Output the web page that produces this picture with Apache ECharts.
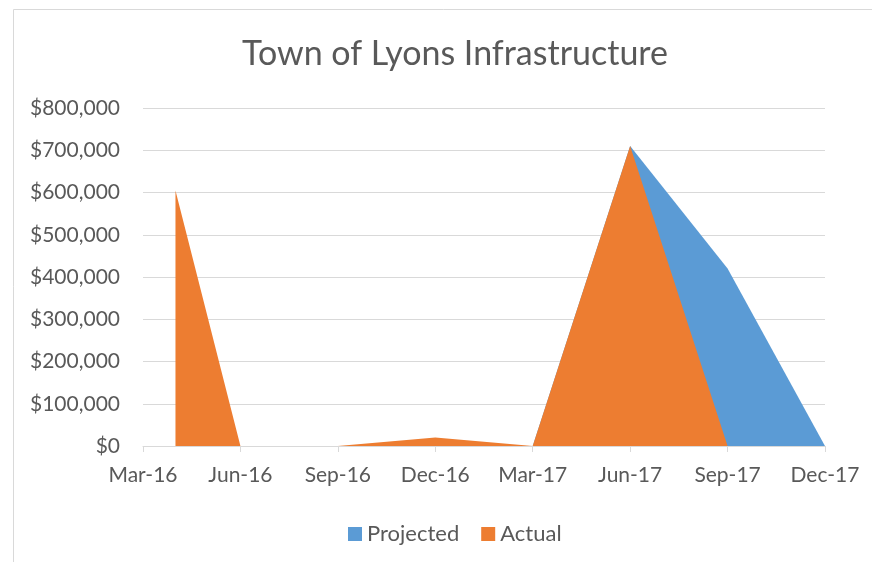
<!DOCTYPE html>
<html>
<head>
<meta charset="utf-8">
<script src="https://cdn.jsdelivr.net/npm/echarts@6/dist/echarts.min.js"></script>
<style>
html,body{margin:0;padding:0;background:#fff;}
#c{width:872px;height:562px;}
</style>
</head>
<body>
<div id="c"></div>
<script>
// Month categories on the date axis (monthly base, labels every 3 months)
const months = ['Mar-16','Apr-16','May-16','Jun-16','Jul-16','Aug-16','Sep-16','Oct-16','Nov-16','Dec-16',
  'Jan-17','Feb-17','Mar-17','Apr-17','May-17','Jun-17','Jul-17','Aug-17','Sep-17','Oct-17','Nov-17','Dec-17'];

const actualDates = ['Apr-16','Jun-16','Sep-16','Dec-16','Mar-17','Jun-17','Sep-17'];
const actualValues = [605000, 0, 0, 20000, 0, 710000, 0];

const projectedDates = ['Mar-17','Jun-17','Sep-17','Dec-17'];
const projectedValues = [0, 710000, 420000, 0];

const yTicks = [0, 100000, 200000, 300000, 400000, 500000, 600000, 700000, 800000];

const textColor = '#595959';
const font = 'Lato';

const chart = echarts.init(document.getElementById('c'), null, {renderer: 'canvas'});
chart.setOption({
  backgroundColor: '#ffffff',
  animation: false,
  graphic: [{
    type: 'rect',
    shape: {x: 13.5, y: 9.5, width: 900, height: 600},
    style: {fill: 'none', stroke: '#D9D9D9', lineWidth: 1},
    silent: true, z: -10
  }],
  title: {
    text: 'Town of Lyons Infrastructure',
    left: 450, top: 32, textAlign: 'center',
    textStyle: {fontFamily: font, fontSize: 34, fontWeight: 'normal', color: textColor}
  },
  legend: {
    data: ['Projected', 'Actual'],
    left: 343, top: 518,
    icon: 'rect', itemWidth: 14, itemHeight: 14, itemGap: 22,
    textStyle: {fontFamily: font, fontSize: 22, color: textColor}
  },
  grid: {left: 143, right: 47, top: 108, bottom: 116, containLabel: false},
  xAxis: {
    type: 'category',
    data: months,
    boundaryGap: false,
    axisLine: {lineStyle: {color: '#D9D9D9', width: 1}},
    axisTick: {interval: 2, length: 6, lineStyle: {color: '#D9D9D9'}},
    axisLabel: {interval: 2, margin: 19, fontFamily: font, fontSize: 21, color: textColor},
    splitLine: {show: false}
  },
  yAxis: {
    type: 'value',
    min: yTicks[0], max: yTicks[yTicks.length - 1], interval: yTicks[1] - yTicks[0],
    axisLine: {show: false},
    axisTick: {show: false},
    axisLabel: {
      margin: 23, fontFamily: font, fontSize: 21, color: textColor,
      formatter: v => '$' + v.toLocaleString('en-US')
    },
    splitLine: {lineStyle: {color: '#D9D9D9', width: 1}}
  },
  series: [
    {
      name: 'Projected', type: 'line',
      data: projectedDates.map((d, i) => [d, projectedValues[i]]),
      symbol: 'none', lineStyle: {width: 0},
      itemStyle: {color: '#5B9BD5'},
      areaStyle: {color: '#5B9BD5', opacity: 1}
    },
    {
      name: 'Actual', type: 'line',
      data: actualDates.map((d, i) => [d, actualValues[i]]),
      symbol: 'none', lineStyle: {width: 0},
      itemStyle: {color: '#ED7D31'},
      areaStyle: {color: '#ED7D31', opacity: 1}
    }
  ]
});
</script>
</body>
</html>
